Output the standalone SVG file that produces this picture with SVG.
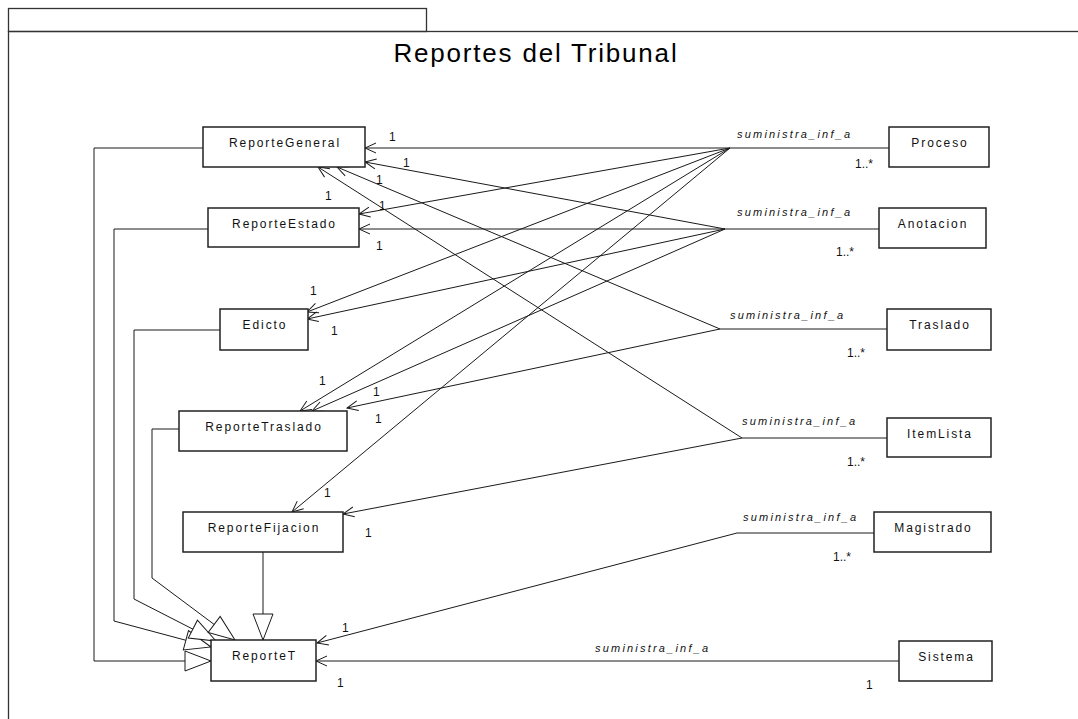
<svg xmlns="http://www.w3.org/2000/svg" width="1078" height="719" viewBox="0 0 1078 719">
<style>
.frame{fill:none;stroke:#333;stroke-width:1.3}
.box{fill:#fff;stroke:#222;stroke-width:1.5}
.lbl{font-family:"Liberation Sans",Arial,sans-serif;font-size:12px;letter-spacing:1.9px;text-anchor:middle;fill:#111}
.asc{font-family:"Liberation Sans",Arial,sans-serif;font-size:11px;font-style:italic;letter-spacing:2.2px;fill:#111}
.m{font-family:"Liberation Sans",Arial,sans-serif;font-size:12px;fill:#111}
.c{fill:none;stroke:#1a1a1a;stroke-width:1}
.nav{marker-end:url(#open)}
.gen{marker-end:url(#tri)}
.title{font-family:"Liberation Sans",Arial,sans-serif;font-size:26px;letter-spacing:1.8px;text-anchor:middle;fill:#000}
</style>
<defs>
<marker id="open" markerUnits="userSpaceOnUse" markerWidth="24" markerHeight="24" viewBox="-12 -12 24 24" refX="0" refY="0" orient="auto">
<path d="M-11,-5 L0,0 L-11,5" fill="none" stroke="#1a1a1a" stroke-width="1"/>
</marker>
<marker id="tri" markerUnits="userSpaceOnUse" markerWidth="60" markerHeight="60" viewBox="-30 -30 60 60" refX="0" refY="0" orient="auto">
<path d="M0,0 L-26,-10 L-26,10 Z" fill="#fff" stroke="#1a1a1a" stroke-width="1"/>
</marker>
</defs>
<rect width="1078" height="719" fill="#fff"/>
<g id="package">
<rect class="frame" x="8.5" y="8.5" width="418" height="23"/>
<rect class="frame" x="8.5" y="31.5" width="1100" height="720"/>
<text class="title" x="536" y="62">Reportes del Tribunal</text>
</g>
<g id="connectors">
<!-- generalizations -->
<polyline class="c gen" points="203,148 94,148 94,661 211,661"/>
<polyline class="c gen" points="208,229 114,229 114,621 211,647"/>
<polyline class="c gen" points="220,330 134,330 134,599 216,641"/>
<polyline class="c gen" points="179,429 152,429 152,578 235,640"/>
<line class="c gen" x1="263" y1="552" x2="263" y2="640"/>
<!-- Proceso -->
<line class="c" x1="730" y1="148" x2="889" y2="148"/>
<line class="c nav" x1="730" y1="148" x2="365" y2="148"/>
<line class="c nav" x1="730" y1="148" x2="359" y2="214"/>
<line class="c nav" x1="730" y1="148" x2="307" y2="312"/>
<line class="c nav" x1="730" y1="148" x2="300" y2="411"/>
<line class="c nav" x1="730" y1="148" x2="292" y2="512"/>
<!-- Anotacion -->
<line class="c" x1="725" y1="229" x2="879" y2="229"/>
<line class="c nav" x1="725" y1="229" x2="365" y2="162"/>
<line class="c nav" x1="725" y1="229" x2="359" y2="229"/>
<line class="c nav" x1="725" y1="229" x2="307" y2="319"/>
<line class="c nav" x1="725" y1="229" x2="312" y2="411"/>
<!-- Traslado -->
<line class="c" x1="720" y1="329" x2="887" y2="329"/>
<line class="c nav" x1="720" y1="329" x2="337" y2="167"/>
<line class="c nav" x1="720" y1="329" x2="347" y2="408"/>
<!-- ItemLista -->
<line class="c" x1="742" y1="438" x2="887" y2="438"/>
<line class="c nav" x1="742" y1="438" x2="318" y2="167"/>
<line class="c nav" x1="742" y1="438" x2="343" y2="514"/>
<!-- Magistrado -->
<line class="c" x1="737" y1="533" x2="874" y2="533"/>
<line class="c nav" x1="737" y1="533" x2="317" y2="643"/>
<!-- Sistema -->
<line class="c nav" x1="899" y1="661" x2="316" y2="661"/>
<!-- association labels -->
<text class="asc" x="737" y="138">suministra_inf_a</text>
<text class="asc" x="737" y="216">suministra_inf_a</text>
<text class="asc" x="730" y="319">suministra_inf_a</text>
<text class="asc" x="742" y="425">suministra_inf_a</text>
<text class="asc" x="743" y="521">suministra_inf_a</text>
<text class="asc" x="595" y="652">suministra_inf_a</text>
<!-- multiplicities -->
<text class="m" x="855" y="168">1..*</text>
<text class="m" x="836" y="256">1..*</text>
<text class="m" x="847" y="357">1..*</text>
<text class="m" x="847" y="466">1..*</text>
<text class="m" x="833" y="561">1..*</text>
<text class="m" x="866" y="689">1</text>
<text class="m" x="389" y="141">1</text>
<text class="m" x="403" y="167">1</text>
<text class="m" x="376" y="184">1</text>
<text class="m" x="325" y="200">1</text>
<text class="m" x="379" y="210">1</text>
<text class="m" x="376" y="250">1</text>
<text class="m" x="310" y="295">1</text>
<text class="m" x="331" y="335">1</text>
<text class="m" x="319" y="385">1</text>
<text class="m" x="373" y="396">1</text>
<text class="m" x="375" y="423">1</text>
<text class="m" x="324" y="497">1</text>
<text class="m" x="365" y="537">1</text>
<text class="m" x="342" y="632">1</text>
<text class="m" x="337" y="687">1</text>
</g>
<g id="ReporteGeneral"><rect class="box" x="203" y="127" width="162" height="40"/><text class="lbl" x="285" y="147">ReporteGeneral</text></g>
<g id="ReporteEstado"><rect class="box" x="208" y="208" width="151" height="39"/><text class="lbl" x="284.5" y="228">ReporteEstado</text></g>
<g id="Edicto"><rect class="box" x="220" y="309" width="88" height="41"/><text class="lbl" x="265" y="329">Edicto</text></g>
<g id="ReporteTraslado"><rect class="box" x="179" y="411" width="168" height="40"/><text class="lbl" x="264" y="431">ReporteTraslado</text></g>
<g id="ReporteFijacion"><rect class="box" x="183" y="512" width="160" height="40"/><text class="lbl" x="264" y="532">ReporteFijacion</text></g>
<g id="ReporteT"><rect class="box" x="211" y="640" width="105" height="41"/><text class="lbl" x="264.5" y="660">ReporteT</text></g>
<g id="Proceso"><rect class="box" x="889" y="127" width="100" height="40"/><text class="lbl" x="940" y="147">Proceso</text></g>
<g id="Anotacion"><rect class="box" x="879" y="208" width="107" height="40"/><text class="lbl" x="933" y="228">Anotacion</text></g>
<g id="Traslado"><rect class="box" x="887" y="309" width="104" height="41"/><text class="lbl" x="940" y="329">Traslado</text></g>
<g id="ItemLista"><rect class="box" x="887" y="418" width="104" height="39"/><text class="lbl" x="940" y="438">ItemLista</text></g>
<g id="Magistrado"><rect class="box" x="874" y="512" width="117" height="40"/><text class="lbl" x="933.5" y="532">Magistrado</text></g>
<g id="Sistema"><rect class="box" x="899" y="641" width="93" height="40"/><text class="lbl" x="946.5" y="661">Sistema</text></g>
</svg>
